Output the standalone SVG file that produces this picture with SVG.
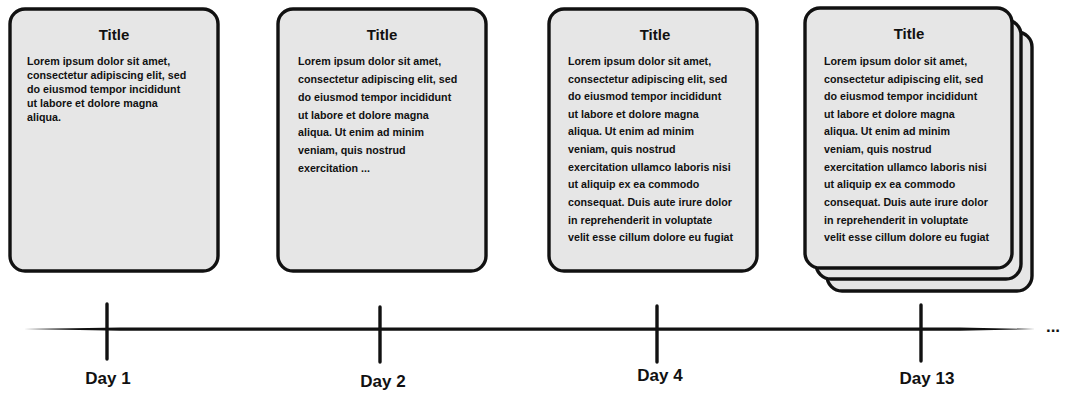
<svg xmlns="http://www.w3.org/2000/svg" width="1080" height="404" viewBox="0 0 1080 404">
<style>
.card{fill:#e6e6e6;stroke:#111;stroke-width:3.4}
.title{font-family:"Liberation Sans",Arial,sans-serif;font-weight:bold;font-size:15px;fill:#111;text-anchor:middle}
.body{font-family:"Liberation Sans",Arial,sans-serif;font-weight:bold;font-size:10.7px;fill:#111}
.day{font-family:"Liberation Sans",Arial,sans-serif;font-weight:bold;font-size:17px;fill:#111;text-anchor:middle}
.tick{stroke:#111;stroke-width:3.4;stroke-linecap:round}
</style>
<rect width="1080" height="404" fill="#fff"/>
<g id="card1">
<rect class="card" x="10" y="9" width="208" height="262" rx="15"/>
<text class="title" x="114" y="40">Title</text>
<text class="body" x="27" y="65">Lorem ipsum dolor sit amet,</text>
<text class="body" x="27" y="79">consectetur adipiscing elit, sed</text>
<text class="body" x="27" y="93">do eiusmod tempor incididunt</text>
<text class="body" x="27" y="107">ut labore et dolore magna</text>
<text class="body" x="27" y="121">aliqua.</text>
</g>
<g id="card2">
<rect class="card" x="278" y="9" width="208" height="262" rx="15"/>
<text class="title" x="382" y="40">Title</text>
<text class="body" x="298" y="65">Lorem ipsum dolor sit amet,</text>
<text class="body" x="298" y="83">consectetur adipiscing elit, sed</text>
<text class="body" x="298" y="101">do eiusmod tempor incididunt</text>
<text class="body" x="298" y="119">ut labore et dolore magna</text>
<text class="body" x="298" y="136">aliqua. Ut enim ad minim</text>
<text class="body" x="298" y="154">veniam, quis nostrud</text>
<text class="body" x="298" y="172">exercitation ...</text>
</g>
<g id="card3">
<rect class="card" x="549" y="9" width="208" height="262" rx="15"/>
<text class="title" x="655" y="40">Title</text>
<text class="body" x="568" y="65">Lorem ipsum dolor sit amet,</text>
<text class="body" x="568" y="83">consectetur adipiscing elit, sed</text>
<text class="body" x="568" y="100">do eiusmod tempor incididunt</text>
<text class="body" x="568" y="118">ut labore et dolore magna</text>
<text class="body" x="568" y="135">aliqua. Ut enim ad minim</text>
<text class="body" x="568" y="153">veniam, quis nostrud</text>
<text class="body" x="568" y="171">exercitation ullamco laboris nisi</text>
<text class="body" x="568" y="188">ut aliquip ex ea commodo</text>
<text class="body" x="568" y="206">consequat. Duis aute irure dolor</text>
<text class="body" x="568" y="224">in reprehenderit in voluptate</text>
<text class="body" x="568" y="241">velit esse cillum dolore eu fugiat</text>
</g>
<g id="card4">
<rect class="card" x="827" y="32" width="205" height="259" rx="15"/>
<rect class="card" x="816" y="20" width="205" height="259" rx="15"/>
<rect class="card" x="805" y="8" width="207" height="260" rx="15"/>
<text class="title" x="909" y="39">Title</text>
<text class="body" x="824" y="65">Lorem ipsum dolor sit amet,</text>
<text class="body" x="824" y="83">consectetur adipiscing elit, sed</text>
<text class="body" x="824" y="100">do eiusmod tempor incididunt</text>
<text class="body" x="824" y="118">ut labore et dolore magna</text>
<text class="body" x="824" y="135">aliqua. Ut enim ad minim</text>
<text class="body" x="824" y="153">veniam, quis nostrud</text>
<text class="body" x="824" y="171">exercitation ullamco laboris nisi</text>
<text class="body" x="824" y="188">ut aliquip ex ea commodo</text>
<text class="body" x="824" y="206">consequat. Duis aute irure dolor</text>
<text class="body" x="824" y="224">in reprehenderit in voluptate</text>
<text class="body" x="824" y="241">velit esse cillum dolore eu fugiat</text>
</g>
<g id="connectors">
<path d="M24,329 L120,327.4 L960,327.4 L1035,329 L960,330.8 L120,330.8 Z" fill="#111"/>
<line class="tick" x1="107" y1="304" x2="107" y2="359"/>
<line class="tick" x1="380" y1="307" x2="380" y2="362"/>
<line class="tick" x1="657" y1="306" x2="657" y2="362"/>
<line class="tick" x1="921" y1="305" x2="921" y2="361"/>
</g>
<g id="labels">
<text class="day" x="108" y="384">Day 1</text>
<text class="day" x="383" y="387">Day 2</text>
<text class="day" x="660" y="381">Day 4</text>
<text class="day" x="927" y="384">Day 13</text>
<text class="day" x="1053" y="332" font-size="14">...</text>
</g>
</svg>
